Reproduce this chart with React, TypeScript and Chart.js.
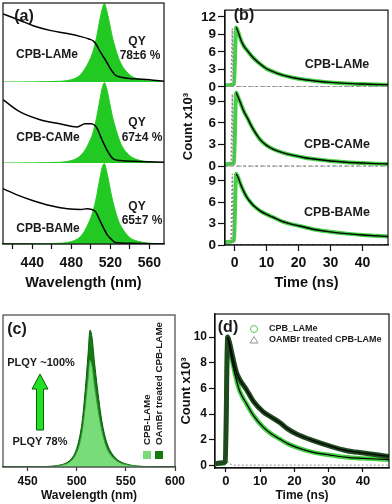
import React, { useEffect, useRef } from 'react';
import { Chart, registerables } from 'chart.js';

Chart.register(...registerables);

const FONT = "'Liberation Sans', Arial, Helvetica, sans-serif";
Chart.defaults.font.family = FONT;
Chart.defaults.color = '#111';

// ================= Panel (a): PL (filled) + absorption (line) =================
const A_X_TICKS = [420, 440, 460, 480, 500, 520, 540, 560];
const A_X_LABELS = [440, 480, 520, 560];

const A_PL_WL = [410, 470, 480, 486, 490, 494, 498, 502, 506, 509, 512, 514, 516, 519, 522, 525, 528, 532, 536, 541, 548, 558, 575];
const A_PL_LAME = [0, 0.01, 0.03, 0.06, 0.1, 0.17, 0.26, 0.38, 0.58, 0.78, 0.95, 1.0, 0.93, 0.76, 0.58, 0.44, 0.32, 0.21, 0.14, 0.08, 0.04, 0.015, 0];
const A_PL_CAME = [0, 0.01, 0.03, 0.06, 0.1, 0.16, 0.25, 0.37, 0.57, 0.77, 0.95, 1.0, 0.94, 0.77, 0.59, 0.45, 0.33, 0.21, 0.14, 0.08, 0.04, 0.015, 0];
const A_PL_BAME = [0, 0.01, 0.03, 0.06, 0.1, 0.17, 0.27, 0.4, 0.6, 0.8, 0.97, 1.0, 0.92, 0.74, 0.56, 0.42, 0.3, 0.2, 0.13, 0.07, 0.035, 0.012, 0];

const A_ABS_LAME_WL = [410, 427, 441, 458, 476, 490, 498, 503, 506, 509, 513, 516, 520, 525, 531, 545, 560, 575];
const A_ABS_LAME = [0.87, 0.79, 0.72, 0.66, 0.62, 0.58, 0.55, 0.52, 0.47, 0.4, 0.32, 0.26, 0.17, 0.09, 0.06, 0.04, 0.03, 0.01];
const A_ABS_CAME_WL = [410, 427, 448, 468, 486, 494, 500, 504, 507, 510, 513, 517, 523, 530, 550, 575];
const A_ABS_CAME = [0.79, 0.64, 0.54, 0.49, 0.45, 0.49, 0.49, 0.47, 0.42, 0.33, 0.25, 0.15, 0.05, 0.03, 0.02, 0.01];
const A_ABS_BAME_WL = [410, 425, 441, 458, 476, 490, 496, 501, 505, 509, 513, 517, 521, 525, 540, 575];
const A_ABS_BAME = [0.69, 0.61, 0.54, 0.48, 0.44, 0.43, 0.44, 0.43, 0.4, 0.3, 0.2, 0.11, 0.06, 0.02, 0.01, 0.0];

// ================= Panel (b): TRPL decays (x10^3 counts) =================
const B_X_TICKS = [0, 10, 20, 30, 40];
const B_Y_TICKS_TOP = [0, 3, 6, 9, 12];
const B_Y_TICKS = [0, 3, 6, 9];
const B_T = [-3, -1, -0.2, 0.5, 1, 2, 3, 4, 5, 6, 8, 10, 12, 15, 18, 22, 26, 30, 35, 40, 44, 48];
const B_LAME = [0.25, 0.3, 0.5, 10.2, 9.6, 8.0, 6.9, 6.2, 5.5, 4.9, 3.9, 3.1, 2.6, 2.0, 1.6, 1.2, 0.95, 0.75, 0.58, 0.47, 0.4, 0.35];
const B_CAME = [0.3, 0.35, 0.5, 10.2, 9.7, 8.6, 7.5, 6.7, 5.8, 5.0, 3.7, 2.9, 2.4, 1.9, 1.55, 1.2, 0.95, 0.75, 0.58, 0.46, 0.38, 0.33];
const B_BAME = [0.4, 0.5, 0.7, 10.0, 9.6, 8.4, 7.4, 6.6, 6.0, 5.5, 4.8, 4.3, 3.9, 3.3, 2.9, 2.5, 2.1, 1.85, 1.6, 1.4, 1.3, 1.2];
const B_FIT_T = [0.5, 1, 2, 3, 4, 5, 6, 8, 10, 12, 15, 18, 22, 26, 30, 35, 40, 44, 48];
const B_FIT_LAME = [10.2, 9.6, 8.0, 6.9, 6.2, 5.5, 4.9, 3.9, 3.1, 2.6, 2.0, 1.6, 1.2, 0.95, 0.75, 0.58, 0.47, 0.4, 0.35];
const B_FIT_CAME = [10.2, 9.7, 8.6, 7.5, 6.7, 5.8, 5.0, 3.7, 2.9, 2.4, 1.9, 1.55, 1.2, 0.95, 0.75, 0.58, 0.46, 0.38, 0.33];
const B_FIT_BAME = [10.0, 9.6, 8.4, 7.4, 6.6, 6.0, 5.5, 4.8, 4.3, 3.9, 3.3, 2.9, 2.5, 2.1, 1.85, 1.6, 1.4, 1.3, 1.2];
const B_IRF_T = [-3, -1.1, -0.7, -0.3, 0.3, 48];
const B_IRF = [0, 0, 10, 0.3, 0, 0];
const B_ZERO_T = [-3, 48];
const B_ZERO = [0, 0];

// ================= Panel (c): PL spectra =================
const C_X_TICKS = [450, 500, 550, 600];
const C_WL = [425, 470, 482, 490, 495, 499, 503, 506, 509, 511.5, 513.5, 515.5, 518, 521, 524, 527, 531, 536, 543, 552, 565, 600];
const C_LAME = [0, 0.003, 0.01, 0.025, 0.05, 0.09, 0.17, 0.28, 0.46, 0.64, 0.78, 0.74, 0.6, 0.45, 0.32, 0.22, 0.13, 0.075, 0.035, 0.015, 0.004, 0];
const C_OAMBR = [0, 0.004, 0.013, 0.032, 0.064, 0.115, 0.22, 0.36, 0.59, 0.82, 1.0, 0.95, 0.77, 0.58, 0.41, 0.28, 0.17, 0.096, 0.045, 0.019, 0.005, 0];

// ================= Panel (d): TRPL decays =================
const D_X_TICKS = [0, 10, 20, 30, 40];
const D_Y_TICKS = [0, 2, 4, 6, 8, 10];
const D_T = [-3, -1, -0.2, 0.5, 1, 2, 3, 4, 6, 8, 10.8, 13, 15.7, 18, 20.6, 25.5, 30.4, 35.3, 40.2, 44, 47.6];
const D_LAME = [0.1, 0.15, 0.25, 10.0, 9.3, 7.9, 6.7, 5.8, 4.8, 3.9, 3.0, 2.5, 2.06, 1.7, 1.41, 1.02, 0.81, 0.63, 0.55, 0.5, 0.45];
const D_OAMBR = [0.15, 0.2, 0.3, 10.0, 9.6, 8.4, 7.3, 6.7, 5.9, 5.0, 4.2, 3.8, 3.35, 2.85, 2.45, 1.93, 1.5, 1.15, 0.97, 0.83, 0.7];
const D_FIT_T = [0.5, 1, 2, 3, 4, 6, 8, 10.8, 13, 15.7, 18, 20.6, 25.5, 30.4, 35.3, 40.2, 44, 47.6];
const D_FIT_LAME = [10.0, 9.3, 7.9, 6.7, 5.8, 4.8, 3.9, 3.0, 2.5, 2.06, 1.7, 1.41, 1.02, 0.81, 0.63, 0.55, 0.5, 0.45];
const D_FIT_OAMBR = [10.0, 9.6, 8.4, 7.3, 6.7, 5.9, 5.0, 4.2, 3.8, 3.35, 2.85, 2.45, 1.93, 1.5, 1.15, 0.97, 0.83, 0.7];
const D_IRF_T = [-3, -0.5, 0, 0.5, 1.5, 3, 47.6];
const D_IRF = [0, 0, 0.6, 0.3, 0.08, 0.02, 0.02];

// ================= helpers =================
const INK = '#111';
const xy = (xs: number[], ys: number[]) => xs.map((x, i) => ({ x, y: ys[i] }));
const fixedTicks = (vals: number[]) => (s: any) => {
  s.ticks = vals.map((v) => ({ value: v }));
};
const line = (data: any, color: string, width: number, order: number, extra: any = {}) => ({
  data,
  borderColor: color,
  backgroundColor: color,
  borderWidth: width,
  pointRadius: 0,
  fill: false,
  order,
  cubicInterpolationMode: 'monotone',
  ...extra,
});

const baseOptions = (padding: any) => ({
  responsive: false,
  animation: false,
  devicePixelRatio: 1,
  events: [],
  layout: { padding },
  plugins: { legend: { display: false }, tooltip: { enabled: false } },
});

const frame = (id: string, color: string, w = 1.2) => ({
  id,
  afterDatasetsDraw(chart: any) {
    const { ctx, chartArea: a } = chart;
    ctx.save();
    ctx.strokeStyle = color;
    ctx.lineWidth = w;
    ctx.strokeRect(a.left, a.top, a.right - a.left, a.bottom - a.top);
    ctx.restore();
  },
});

type Txt = { t: string; x: number; y: number; s: number; a?: CanvasTextAlign; r?: boolean };
const overlay = (id: string, ox: number, oy: number, items: Txt[], draw?: (ctx: CanvasRenderingContext2D) => void) => ({
  id,
  afterDraw(chart: any) {
    const ctx: CanvasRenderingContext2D = chart.ctx;
    ctx.save();
    ctx.translate(-ox, -oy);
    if (draw) draw(ctx);
    for (const it of items) {
      ctx.save();
      ctx.font = `bold ${it.s}px ${FONT}`;
      ctx.fillStyle = '#1a1a1a';
      ctx.textBaseline = 'middle';
      ctx.textAlign = it.a ?? 'center';
      ctx.translate(it.x, it.y);
      if (it.r) ctx.rotate(-Math.PI / 2);
      ctx.fillText(it.t, 0, 0);
      ctx.restore();
    }
    ctx.restore();
  },
});

// ================= configs =================
const GREEN_A = '#22c922';

function configA(): any {
  const aY = (weight: number) => ({
    type: 'linear',
    position: 'left',
    stack: 'a',
    stackWeight: weight,
    min: 0,
    max: 1.01,
    ticks: { display: false },
    grid: { display: false },
    border: { display: false },
    afterFit: (s: any) => {
      s.width = 0;
    },
  });
  const subs = [
    { id: 'y1', pl: A_PL_LAME, absX: A_ABS_LAME_WL, abs: A_ABS_LAME },
    { id: 'y2', pl: A_PL_CAME, absX: A_ABS_CAME_WL, abs: A_ABS_CAME },
    { id: 'y3', pl: A_PL_BAME, absX: A_ABS_BAME_WL, abs: A_ABS_BAME },
  ];
  const datasets: any[] = [];
  subs.forEach((s) => {
    datasets.push(line(xy(A_PL_WL, s.pl), GREEN_A, 1, 2, { yAxisID: s.id, fill: 'origin', backgroundColor: GREEN_A }));
    datasets.push(line(xy(s.absX, s.abs), '#000', 1.5, 0, { yAxisID: s.id }));
  });
  return {
    type: 'line',
    data: { datasets },
    options: {
      ...baseOptions({ left: 3, top: 3, right: 14, bottom: 0 }),
      scales: {
        x: {
          type: 'linear',
          position: 'bottom',
          min: 410,
          max: 575,
          afterBuildTicks: fixedTicks(A_X_TICKS),
          afterFit: (s: any) => {
            s.height = 56;
          },
          ticks: {
            autoSkip: false,
            maxRotation: 0,
            padding: 5.5,
            color: INK,
            font: { size: 14, weight: 'bold' },
            callback: (v: number) => (A_X_LABELS.includes(v) ? String(v) : ''),
          },
          grid: { display: true, drawOnChartArea: false, drawTicks: true, tickLength: 5, color: INK, tickWidth: 1.2 },
          border: { display: true, color: INK, width: 1.2 },
          title: { display: true, text: 'Wavelength (nm)', color: INK, font: { size: 14.5, weight: 'bold' }, padding: { top: 0, bottom: 8 } },
        },
        y3: aY(81),
        y2: aY(81),
        y1: aY(79),
      },
    },
    plugins: [
      frame('frameA', INK),
      overlay('txtA', 0, 0, [
        { t: '(a)', x: 24, y: 17, s: 16 },
        { t: 'CPB-LAMe', x: 47, y: 55, s: 12 },
        { t: 'QY', x: 137, y: 42, s: 12 },
        { t: '78±6 %', x: 140, y: 56, s: 12 },
        { t: 'CPB-CAMe', x: 48, y: 138, s: 12 },
        { t: 'QY', x: 137, y: 123, s: 12 },
        { t: '67±4 %', x: 142, y: 138, s: 12 },
        { t: 'CPB-BAMe', x: 48, y: 229, s: 12 },
        { t: 'QY', x: 137, y: 207, s: 12 },
        { t: '65±7 %', x: 142, y: 221, s: 12 },
      ]),
    ],
  };
}

const GREEN_B = '#45cf45';

function configB(): any {
  const bY = (weight: number, max: number, ticks: number[], title?: string) => ({
    type: 'linear',
    position: 'left',
    stack: 'b',
    stackWeight: weight,
    min: 0,
    max,
    afterBuildTicks: fixedTicks(ticks),
    afterFit: (s: any) => {
      s.width = 47;
    },
    ticks: { color: INK, font: { size: 13.5, weight: 'bold' }, padding: 2, autoSkip: false },
    grid: { display: true, drawOnChartArea: false, drawTicks: true, tickLength: 7, color: INK, tickWidth: 1.2 },
    border: { display: true, color: INK, width: 1.2 },
    title: title
      ? { display: true, text: title, color: INK, font: { size: 13, weight: 'bold' }, padding: { top: 2.5, bottom: 0 } }
      : { display: false },
  });
  const subs = [
    { id: 'y1', d: B_LAME, f: B_FIT_LAME },
    { id: 'y2', d: B_CAME, f: B_FIT_CAME },
    { id: 'y3', d: B_BAME, f: B_FIT_BAME },
  ];
  const datasets: any[] = [];
  subs.forEach((s) => {
    datasets.push(line(xy(B_ZERO_T, B_ZERO), '#7a7a7a', 1.6, 5, { yAxisID: s.id, borderDash: [3, 3] }));
    datasets.push(line(xy(B_IRF_T, B_IRF), '#8a8a8a', 1.5, 1, { yAxisID: s.id, borderDash: [2, 2], cubicInterpolationMode: 'default', tension: 0 }));
    datasets.push(line(xy(B_T, s.d), GREEN_B, 4, 2, { yAxisID: s.id }));
    datasets.push(line(xy(B_FIT_T, s.f), '#000', 1.4, 0, { yAxisID: s.id }));
  });
  return {
    type: 'line',
    data: { datasets },
    options: {
      ...baseOptions({ left: 0, top: 3, right: 4, bottom: 0 }),
      scales: {
        x: {
          type: 'linear',
          position: 'bottom',
          min: -3,
          max: 48,
          afterBuildTicks: fixedTicks(B_X_TICKS),
          afterFit: (s: any) => {
            s.height = 55;
          },
          ticks: { autoSkip: false, maxRotation: 0, padding: 3.5, color: INK, font: { size: 14, weight: 'bold' } },
          grid: { display: true, drawOnChartArea: false, drawTicks: true, tickLength: 6, color: INK, tickWidth: 1.2 },
          border: { display: true, color: INK, width: 1.2 },
          title: { display: true, text: 'Time (ns)', color: INK, font: { size: 14.5, weight: 'bold' }, padding: { top: 0, bottom: 8 } },
        },
        y3: bY(81, 11.05, B_Y_TICKS),
        y2: bY(82, 11.0, B_Y_TICKS, 'Count x10³'),
        y1: bY(79, 13.17, B_Y_TICKS_TOP),
      },
    },
    plugins: [
      frame('frameB', INK),
      overlay('txtB', 178, 0, [
        { t: '(b)', x: 244, y: 16, s: 16 },
        { t: 'CPB-LAMe', x: 337, y: 65, s: 12.5 },
        { t: 'CPB-CAMe', x: 337, y: 145, s: 12.5 },
        { t: 'CPB-BAMe', x: 337, y: 213, s: 12.5 },
      ]),
    ],
  };
}

const LIGHT_C = '#78dc78';
const DARK_C = '#127c12';

function configC(): any {
  const drawExtras = (ctx: CanvasRenderingContext2D) => {
    // arrow
    ctx.save();
    ctx.beginPath();
    ctx.moveTo(40, 374);
    ctx.lineTo(48, 389);
    ctx.lineTo(43.5, 389);
    ctx.lineTo(43.5, 430);
    ctx.lineTo(36.5, 430);
    ctx.lineTo(36.5, 389);
    ctx.lineTo(32, 389);
    ctx.closePath();
    ctx.fillStyle = '#22e022';
    ctx.fill();
    ctx.strokeStyle = '#0b5a0b';
    ctx.lineWidth = 1;
    ctx.stroke();
    // legend swatches
    ctx.fillStyle = LIGHT_C;
    ctx.fillRect(143, 451, 8, 8);
    ctx.fillStyle = DARK_C;
    ctx.fillRect(155, 451, 8, 8);
    ctx.restore();
  };
  return {
    type: 'line',
    data: {
      datasets: [
        line(xy(C_WL, C_LAME), '#3a9a3a', 0.8, 1, { fill: 'origin', backgroundColor: LIGHT_C }),
        line(xy(C_WL, C_OAMBR), '#0b5a0b', 1, 2, { fill: 'origin', backgroundColor: DARK_C }),
      ],
    },
    options: {
      ...baseOptions({ left: 3, top: 15, right: 17, bottom: 0 }),
      scales: {
        x: {
          type: 'linear',
          position: 'bottom',
          min: 425,
          max: 600,
          afterBuildTicks: fixedTicks(C_X_TICKS),
          afterFit: (s: any) => {
            s.height = 37;
          },
          ticks: { autoSkip: false, maxRotation: 0, padding: 3.8, color: INK, font: { size: 12, weight: 'bold' } },
          grid: { display: true, drawOnChartArea: false, drawTicks: true, tickLength: 4, color: '#333', tickWidth: 1.2 },
          border: { display: true, color: '#333', width: 1.2 },
          title: { display: true, text: 'Wavelength (nm)', color: INK, font: { size: 12, weight: 'bold' }, padding: { top: 0, bottom: 0.8 } },
        },
        y: { type: 'linear', display: false, min: 0, max: 1.11 },
      },
    },
    plugins: [
      frame('frameC', '#444', 1.2),
      overlay(
        'txtC',
        0,
        300,
        [
          { t: '(c)', x: 17, y: 330, s: 16 },
          { t: 'PLQY ~100%', x: 41, y: 363, s: 11 },
          { t: 'PLQY 78%', x: 40, y: 442, s: 11 },
          { t: 'CPB-LAMe', x: 147, y: 445, s: 9.8, a: 'left', r: true },
          { t: 'OAmBr treated CPB-LAMe', x: 159, y: 445, s: 9.8, a: 'left', r: true },
        ],
        drawExtras,
      ),
    ],
  };
}

const LIGHT_D = '#3fcf3f';
const DARK_D = '#1e4a1e';

function configD(): any {
  const drawLegend = (ctx: CanvasRenderingContext2D) => {
    ctx.save();
    ctx.lineWidth = 1;
    ctx.strokeStyle = '#55cc55';
    ctx.beginPath();
    ctx.arc(254, 329, 3.5, 0, Math.PI * 2);
    ctx.stroke();
    ctx.strokeStyle = '#8a9a8a';
    ctx.beginPath();
    ctx.moveTo(254, 336.5);
    ctx.lineTo(258, 343);
    ctx.lineTo(250, 343);
    ctx.closePath();
    ctx.stroke();
    ctx.restore();
  };
  return {
    type: 'line',
    data: {
      datasets: [
        line(xy(D_IRF_T, D_IRF), '#aaaaaa', 1.2, 4, { borderDash: [2, 2] }),
        line(xy(D_T, D_LAME), LIGHT_D, 4.5, 3),
        line(xy(D_T, D_OAMBR), DARK_D, 5, 2),
        line(xy(D_FIT_T, D_FIT_LAME), '#000', 1.2, 0),
        line(xy(D_FIT_T, D_FIT_OAMBR), '#000', 1.2, 0),
      ],
    },
    options: {
      ...baseOptions({ left: 0, top: 14, right: 3, bottom: 0 }),
      scales: {
        x: {
          type: 'linear',
          position: 'bottom',
          min: -3.2,
          max: 47.6,
          afterBuildTicks: fixedTicks(D_X_TICKS),
          afterFit: (s: any) => {
            s.height = 36;
          },
          ticks: { autoSkip: false, maxRotation: 0, padding: 1.5, color: INK, font: { size: 13, weight: 'bold' } },
          grid: { display: true, drawOnChartArea: false, drawTicks: true, tickLength: 4, color: INK, tickWidth: 1.2 },
          border: { display: true, color: INK, width: 1.2 },
          title: { display: true, text: 'Time (ns)', color: INK, font: { size: 12, weight: 'bold' }, padding: { top: 0, bottom: 0.8 } },
        },
        y: {
          type: 'linear',
          position: 'left',
          min: -0.2,
          max: 11.8,
          afterBuildTicks: fixedTicks(D_Y_TICKS),
          afterFit: (s: any) => {
            s.width = 37;
          },
          ticks: { autoSkip: false, padding: 2, color: INK, font: { size: 12, weight: 'bold' } },
          grid: { display: true, drawOnChartArea: false, drawTicks: true, tickLength: 6, color: INK, tickWidth: 1.2 },
          border: { display: true, color: INK, width: 1.2 },
          title: { display: true, text: 'Count x10³', color: INK, font: { size: 13, weight: 'bold' }, padding: { top: 1, bottom: 0 } },
        },
      },
    },
    plugins: [
      frame('frameD', INK),
      overlay(
        'txtD',
        178,
        300,
        [
          { t: '(d)', x: 228, y: 328, s: 16 },
          { t: 'CPB_LAMe', x: 269, y: 329, s: 9, a: 'left' },
          { t: 'OAMBr treated CPB-LAMe', x: 269, y: 340, s: 9, a: 'left' },
        ],
        drawLegend,
      ),
    ],
  };
}

function ChartBox(props: { left: number; top: number; width: number; height: number; make: () => any }) {
  const ref = useRef<HTMLCanvasElement | null>(null);
  useEffect(() => {
    const chart = new Chart(ref.current as HTMLCanvasElement, props.make());
    return () => chart.destroy();
  }, []);
  return (
    <canvas
      ref={ref}
      width={props.width}
      height={props.height}
      style={{ position: 'absolute', left: props.left, top: props.top, width: props.width, height: props.height }}
    />
  );
}

export default function App() {
  return (
    <div style={{ position: 'absolute', left: 0, top: 0, width: 392, height: 504, background: '#fff', overflow: 'hidden' }}>
      <ChartBox left={0} top={0} width={178} height={300} make={configA} />
      <ChartBox left={178} top={0} width={214} height={300} make={configB} />
      <ChartBox left={0} top={300} width={192} height={204} make={configC} />
      <ChartBox left={178} top={300} width={214} height={204} make={configD} />
    </div>
  );
}
